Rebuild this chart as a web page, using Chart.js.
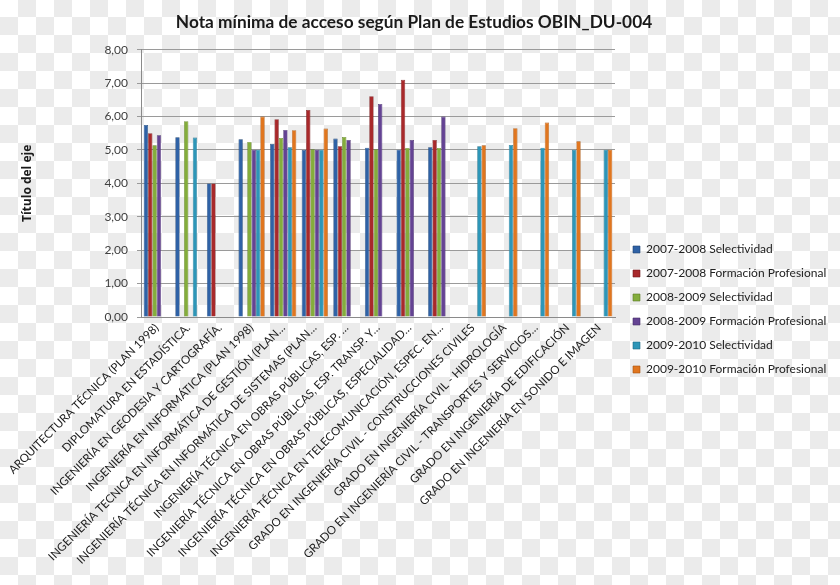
<!DOCTYPE html>
<html>
<head>
<meta charset="utf-8">
<script src="https://cdn.jsdelivr.net/npm/chart.js@4/dist/chart.umd.min.js"></script>
<style>
  html, body { margin: 0; padding: 0; }
  body {
    width: 840px; height: 585px; overflow: hidden;
    background-color: #ffffff;
    background-image:
      linear-gradient(45deg, #ebebeb 25%, transparent 25%, transparent 75%, #ebebeb 75%),
      linear-gradient(45deg, #ebebeb 25%, transparent 25%, transparent 75%, #ebebeb 75%);
    background-size: 36px 36px;
    background-position: 0 -1px, 18px 17px;
  }
  canvas { display: block; }
</style>
</head>
<body>
<canvas id="c" width="840" height="585"></canvas>
<script>
const categories = [
  "ARQUITECTURA TÉCNICA (PLAN 1998)",
  "DIPLOMATURA EN ESTADÍSTICA.",
  "INGENIERÍA EN GEODESIA Y CARTOGRAFÍA.",
  "INGENIERÍA EN INFORMÁTICA (PLAN 1998)",
  "INGENIERÍA TECNICA EN INFORMÁTICA DE GESTIÓN (PLAN…",
  "INGENIERÍA TÉCNICA EN INFORMÁTICA DE SISTEMAS (PLAN…",
  "INGENIERÍA TÉCNICA EN OBRAS PÚBLICAS, ESP. …",
  "INGENIERÍA TÉCNICA EN OBRAS PÚBLICAS, ESP. TRANSP. Y…",
  "INGENIERÍA TÉCNICA EN OBRAS PÚBLICAS, ESPECIALIDAD…",
  "INGENIERÍA TÉCNICA EN TELECOMUNICACIÓN, ESPEC. EN…",
  "GRADO EN INGENIERÍA CIVIL - CONSTRUCCIONES CIVILES",
  "GRADO EN INGENIERÍA CIVIL - HIDROLOGÍA",
  "GRADO EN INGENIERÍA CIVIL - TRANSPORTES Y SERVICIOS…",
  "GRADO EN INGENIERÍA DE EDIFICACIÓN",
  "GRADO EN INGENIERÍA EN SONIDO E IMAGEN"
];

const seriesNames = [
  "2007-2008 Selectividad",
  "2007-2008 Formación Profesional",
  "2008-2009 Selectividad",
  "2008-2009 Formación Profesional",
  "2009-2010 Selectividad",
  "2009-2010 Formación Profesional"
];

const sel0708 = [5.75, 5.38, 4.00, 5.32, 5.18, 5.00, 5.34, 5.07, 5.01, 5.08, null, null, null, null, null];
const fp0708  = [5.50, null, 4.00, null, 5.92, 6.20, 5.11, 6.61, 7.10, 5.30, null, null, null, null, null];
const sel0809 = [5.14, 5.86, null, 5.24, 5.36, 5.02, 5.39, 5.02, 5.06, 5.06, null, null, null, null, null];
const fp0809  = [5.44, null, null, 5.01, 5.60, 5.01, 5.30, 6.38, 5.30, 6.00, null, null, null, null, null];
const sel0910 = [null, 5.37, null, 5.01, 5.08, 5.01, null, null, null, null, 5.11, 5.15, 5.07, 5.01, 5.01];
const fp0910  = [null, null, null, 6.00, 5.59, 5.64, null, null, null, null, 5.14, 5.65, 5.82, 5.26, 5.01];

const yTicks = [0, 1, 2, 3, 4, 5, 6, 7, 8];

const seriesValues = [sel0708, fp0708, sel0809, fp0809, sel0910, fp0910];
const fills   = ["#2f62a6", "#a8292b", "#84ad3c", "#644393", "#2d96b8", "#e0761f"];
const borders = ["#1e4473", "#711a1b", "#5a7a25", "#432b66", "#1d6a83", "#a4520f"];

const FONT = "Lato, 'Liberation Sans', sans-serif";

// widen the legend box and nudge it so its items sit where the reference has them
const LEGEND_EXTRA_W = 6;
const LEGEND_SHIFT_Y = 17;
const legendNudge = {
  id: 'legendNudge',
  beforeLayout(chart) {
    const lg = chart.legend;
    if (lg && !lg._nudged) {
      const origFit = lg.fit;
      lg.fit = function () { origFit.call(this); this.width += LEGEND_EXTRA_W; };
      lg._nudged = true;
    }
  },
  afterLayout(chart) {
    const lg = chart.legend;
    if (lg) {
      lg.left += LEGEND_EXTRA_W;
      lg.top += LEGEND_SHIFT_Y;
      lg.bottom += LEGEND_SHIFT_Y;
    }
  }
};

new Chart(document.getElementById('c'), {
  type: 'bar',
  data: {
    labels: categories,
    datasets: seriesValues.map((vals, i) => ({
      label: seriesNames[i],
      data: vals,
      backgroundColor: fills[i],
      borderColor: borders[i],
      borderWidth: 0.6
    }))
  },
  plugins: [legendNudge],
  options: {
    responsive: false,
    animation: false,
    layout: { padding: { left: 0, right: 12, top: 0, bottom: 0 } },
    datasets: { bar: { categoryPercentage: 0.83, barPercentage: 1.0 } },
    plugins: {
      title: {
        display: true,
        text: "Nota mínima de acceso según Plan de Estudios OBIN_DU-004",
        color: "#1a1a1a",
        font: { family: FONT, size: 17.3, weight: 'bold' },
        padding: { top: 12, bottom: 17 }
      },
      legend: {
        position: 'right',
        labels: {
          color: "#222222",
          font: { family: FONT, size: 12 },
          boxWidth: 7,
          boxHeight: 7,
          padding: 12
        }
      },
      tooltip: { enabled: false }
    },
    scales: {
      x: {
        grid: { display: false, drawTicks: false },
        border: { display: true, color: "#8a8a8a", width: 1 },
        ticks: {
          autoSkip: false,
          minRotation: 45,
          maxRotation: 45,
          color: "#1a1a1a",
          font: { family: FONT, size: 11.5 },
          padding: 4
        },
        afterFit: (scale) => { scale.height = 268; }
      },
      y: {
        min: 0,
        max: 8,
        afterBuildTicks: (scale) => { scale.ticks = yTicks.map(v => ({ value: v })); },
        grid: { color: "#9a9a9a", lineWidth: 1, tickLength: 4 },
        border: { display: true, color: "#8a8a8a", width: 1 },
        ticks: {
          color: "#404040",
          font: { family: FONT, size: 12 },
          padding: 9,
          callback: (v) => Number(v).toFixed(2).replace('.', ',')
        },
        title: {
          display: true,
          text: "Título del eje",
          color: "#1a1a1a",
          font: { family: "'Open Sans', sans-serif", size: 12, weight: 'bold' },
          padding: { top: 20, bottom: 0 }
        },
        afterFit: (scale) => { scale.width = 141; }
      }
    }
  }
});
</script>
</body>
</html>
